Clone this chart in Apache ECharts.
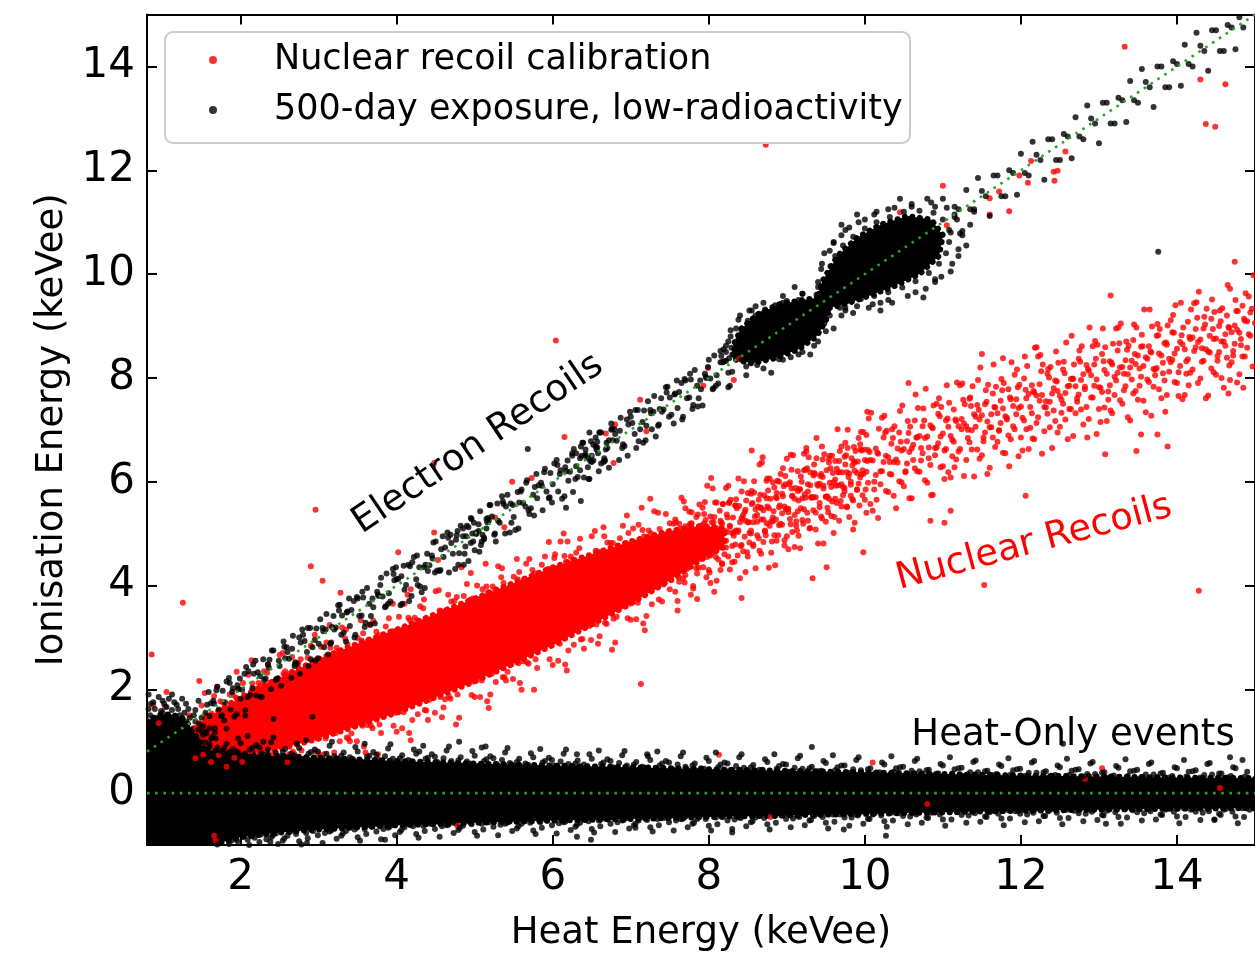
<!DOCTYPE html>
<html><head><meta charset="utf-8">
<script src="https://cdn.jsdelivr.net/npm/echarts@6/dist/echarts.min.js"></script>
<style>html,body{margin:0;padding:0;background:#fff}#c{width:1255px;height:957px}</style>
</head><body><div id="c"></div>
<script>
const FONT = 'DejaVu Sans';
const xTicks = [2,4,6,8,10,12,14];
const yTicks = [0,2,4,6,8,10,12,14];
const legendNames = ['Nuclear recoil calibration','500-day exposure, low-radioactivity'];

// ---- Nuclear recoil calibration (red) ----
const nrCoreUpper = [[1.25,1.05],[1.5,1.38],[2.0,1.85],[2.5,2.22],[3.0,2.58],[3.5,2.88],[4.0,3.15],[4.5,3.45],[5.0,3.75],[5.5,4.05],[6.0,4.35],[6.5,4.6],[7.0,4.85],[7.5,5.05],[7.9,5.15],[8.2,5.1]];
const nrCoreLower = [[8.2,4.75],[7.9,4.5],[7.5,4.1],[7.0,3.65],[6.5,3.25],[6.0,2.85],[5.5,2.5],[5.0,2.15],[4.5,1.85],[4.0,1.55],[3.5,1.3],[3.0,1.05],[2.5,0.85],[2.0,0.75],[1.5,0.72],[1.25,0.78]];
const nrSparse = [
7.50,3.93,7.54,4.37,7.47,4.62,7.56,4.96,7.45,5.38,7.52,4.20,7.60,3.70,7.64,4.28,7.57,4.59,7.66,4.87,7.55,5.19,7.62,4.73,
7.70,4.20,7.74,4.56,7.67,4.86,7.76,5.19,7.65,5.69,7.72,4.42,7.80,3.99,7.84,4.33,7.77,4.85,7.86,5.06,7.75,5.42,7.82,4.67,
7.90,4.51,7.94,4.74,7.87,5.03,7.96,5.26,7.85,3.74,7.92,5.50,8.00,4.30,8.04,4.63,7.97,4.87,8.06,5.22,7.95,5.61,8.02,4.05,
8.10,4.09,8.14,4.78,8.07,5.07,8.16,5.21,8.05,5.87,8.12,4.50,8.20,4.60,8.24,5.03,8.17,5.19,8.26,5.60,8.15,4.30,8.22,5.88,
8.30,4.45,8.34,4.79,8.27,5.15,8.36,5.49,8.25,5.92,8.32,5.03,8.40,4.14,8.44,4.66,8.37,5.03,8.46,5.42,8.35,5.66,8.42,5.29,
8.50,4.56,8.54,5.00,8.47,5.25,8.56,5.59,8.45,6.01,8.52,4.83,8.60,4.33,8.64,4.91,8.57,5.22,8.66,5.50,8.55,5.82,8.62,5.36,
8.70,4.84,8.74,5.20,8.67,5.50,8.76,5.83,8.65,6.33,8.72,5.06,8.80,4.63,8.84,4.97,8.77,5.49,8.86,5.70,8.75,6.06,8.82,5.31,
8.90,5.16,8.94,5.39,8.87,5.68,8.96,5.91,8.85,4.39,8.92,6.15,9.00,4.95,9.04,5.28,8.97,5.52,9.06,5.87,8.95,6.26,9.02,4.70,
9.10,4.74,9.14,5.43,9.07,5.72,9.16,5.86,9.05,6.52,9.12,5.15,9.20,5.26,9.24,5.69,9.17,5.85,9.26,6.26,9.15,4.96,9.22,6.54,
9.30,5.11,9.34,5.45,9.27,5.81,9.36,6.15,9.25,6.58,9.32,5.69,9.40,4.81,9.44,5.33,9.37,5.70,9.46,6.09,9.35,6.33,9.42,5.96,
9.50,5.23,9.54,5.67,9.47,5.92,9.56,6.26,9.45,6.68,9.52,5.50,9.60,5.01,9.64,5.59,9.57,5.90,9.66,6.18,9.55,6.50,9.62,6.04,
9.70,5.52,9.74,5.88,9.67,6.18,9.76,6.51,9.65,7.01,9.72,5.74,9.80,5.32,9.84,5.66,9.77,6.18,9.86,6.39,9.75,6.75,9.82,6.00,
9.90,5.85,9.94,6.08,9.87,6.37,9.96,6.60,9.85,5.08,9.92,6.84,10.00,5.65,10.04,5.98,9.97,6.22,10.06,6.57,9.95,6.96,10.02,5.40,
10.10,5.44,10.14,6.13,10.07,6.42,10.16,6.56,10.05,7.22,10.12,5.85,10.20,5.95,10.24,6.38,10.17,6.54,10.26,6.95,10.15,5.65,10.22,7.23,
10.30,5.80,10.34,6.14,10.27,6.50,10.36,6.84,10.25,7.27,10.32,6.38,10.40,5.49,10.44,6.01,10.37,6.38,10.46,6.77,10.35,7.01,10.42,6.64,
10.50,5.91,10.54,6.35,10.47,6.60,10.56,6.94,10.45,7.36,10.52,6.18,10.60,5.68,10.64,6.26,10.57,6.57,10.66,6.85,10.55,7.17,10.62,6.71,
10.70,6.19,10.74,6.55,10.67,6.85,10.76,7.18,10.65,7.68,10.72,6.41,10.80,5.98,10.84,6.32,10.77,6.84,10.86,7.05,10.75,7.41,10.82,6.66,
10.90,6.51,10.94,6.74,10.87,7.03,10.96,7.26,10.85,5.74,10.92,7.50,11.00,6.30,11.04,6.63,10.97,6.87,11.06,7.22,10.95,7.61,11.02,6.05,
11.10,6.08,11.14,6.77,11.07,7.06,11.16,7.20,11.05,7.86,11.12,6.49,11.20,6.58,11.24,7.01,11.17,7.17,11.26,7.58,11.15,6.28,11.22,7.86,
11.30,6.42,11.34,6.76,11.27,7.12,11.36,7.46,11.25,7.89,11.32,7.00,11.40,6.10,11.44,6.62,11.37,6.99,11.46,7.38,11.35,7.62,11.42,7.25,
11.50,6.51,11.54,6.95,11.47,7.20,11.56,7.54,11.45,7.96,11.52,6.78,11.60,6.27,11.64,6.85,11.57,7.16,11.66,7.44,11.55,7.76,11.62,7.30,
11.70,6.77,11.74,7.13,11.67,7.43,11.76,7.76,11.65,8.26,11.72,6.99,11.80,6.55,11.84,6.89,11.77,7.41,11.86,7.62,11.75,7.98,11.82,7.23,
11.90,7.07,11.94,7.30,11.87,7.59,11.96,7.82,11.85,6.30,11.92,8.06,12.00,6.85,12.04,7.18,11.97,7.42,12.06,7.77,11.95,8.16,12.02,6.60,
12.10,6.63,12.14,7.32,12.07,7.61,12.16,7.75,12.05,8.41,12.12,7.04,12.20,7.13,12.24,7.56,12.17,7.72,12.26,8.13,12.15,6.83,12.22,8.41,
12.30,6.97,12.34,7.31,12.27,7.67,12.36,8.01,12.25,8.44,12.32,7.55,12.40,6.65,12.44,7.17,12.37,7.54,12.46,7.93,12.35,8.17,12.42,7.80,
12.50,7.06,12.54,7.50,12.47,7.75,12.56,8.09,12.45,8.51,12.52,7.33,12.60,6.82,12.64,7.40,12.57,7.71,12.66,7.99,12.55,8.31,12.62,7.85,
12.70,7.32,12.74,7.68,12.67,7.98,12.76,8.31,12.65,8.81,12.72,7.54,12.80,7.10,12.84,7.44,12.77,7.96,12.86,8.17,12.75,8.53,12.82,7.78,
12.90,7.62,12.94,7.85,12.87,8.14,12.96,8.37,12.85,6.85,12.92,8.61,13.00,7.40,13.04,7.73,12.97,7.97,13.06,8.32,12.95,8.71,13.02,7.15,
13.10,7.17,13.14,7.86,13.07,8.15,13.16,8.29,13.05,8.95,13.12,7.58,13.20,7.67,13.24,8.10,13.17,8.26,13.26,8.67,13.15,7.37,13.22,8.95,
13.30,7.50,13.34,7.84,13.27,8.20,13.36,8.54,13.25,8.97,13.32,8.08,13.40,7.18,13.44,7.70,13.37,8.07,13.46,8.46,13.35,8.70,13.42,8.33,
13.50,7.58,13.54,8.02,13.47,8.27,13.56,8.61,13.45,9.03,13.52,7.85,13.60,7.34,13.64,7.92,13.57,8.23,13.66,8.51,13.55,8.83,13.62,8.37,
13.70,7.83,13.74,8.19,13.67,8.49,13.76,8.82,13.65,9.32,13.72,8.05,13.80,7.61,13.84,7.95,13.77,8.47,13.86,8.68,13.75,9.04,13.82,8.29,
13.90,8.12,13.94,8.35,13.87,8.64,13.96,8.87,13.85,7.35,13.92,9.11,14.00,7.90,14.04,8.23,13.97,8.47,14.06,8.82,13.95,9.21,14.02,7.65,
14.10,7.67,14.14,8.36,14.07,8.65,14.16,8.79,14.05,9.45,14.12,8.08,14.20,8.16,14.24,8.59,14.17,8.75,14.26,9.16,14.15,7.86,14.22,9.44,
14.30,7.99,14.34,8.33,14.27,8.69,14.36,9.03,14.25,9.46,14.32,8.57,14.40,7.66,14.44,8.18,14.37,8.55,14.46,8.94,14.35,9.18,14.42,8.81,
14.50,8.06,14.54,8.50,14.47,8.75,14.56,9.09,14.45,9.51,14.52,8.33,14.60,7.81,14.64,8.39,14.57,8.70,14.66,8.98,14.55,9.30,14.62,8.84,
14.70,8.30,14.74,8.66,14.67,8.96,14.76,9.29,14.65,9.79,14.72,8.52,14.80,8.07,14.84,8.41,14.77,8.93,14.86,9.14,14.75,9.50,14.82,8.75,
14.90,8.58,14.94,8.81,14.87,9.10,14.96,9.33,14.85,7.81,14.92,9.57];
const nrSparse2 = [
7.57,3.88,7.52,4.30,7.60,4.58,7.54,4.88,7.58,5.22,7.67,4.14,7.62,4.52,7.70,4.78,7.64,5.10,7.68,5.62,
7.77,3.82,7.72,4.34,7.80,4.78,7.74,4.92,7.78,5.20,7.87,4.34,7.82,4.56,7.90,5.02,7.84,5.32,7.88,5.56,
7.97,4.16,7.92,4.78,8.00,5.00,7.94,5.20,7.98,5.92,8.07,3.88,8.02,4.58,8.10,4.78,8.04,5.22,8.08,5.60,
8.17,4.41,8.12,4.79,8.20,5.06,8.14,5.44,8.18,5.57,8.27,4.31,8.22,4.73,8.30,5.01,8.24,5.31,8.28,5.65,
8.37,4.58,8.32,4.96,8.40,5.22,8.34,5.54,8.38,6.06,8.47,4.26,8.42,4.78,8.50,5.22,8.44,5.36,8.48,5.64,
8.57,4.79,8.52,5.01,8.60,5.47,8.54,5.77,8.58,6.01,8.67,4.61,8.62,5.23,8.70,5.45,8.64,5.65,8.68,6.37,
8.77,4.34,8.72,5.04,8.80,5.24,8.74,5.68,8.78,6.06,8.87,4.86,8.82,5.24,8.90,5.51,8.84,5.89,8.88,6.02,
8.97,4.77,8.92,5.19,9.00,5.47,8.94,5.77,8.98,6.11,9.07,5.03,9.02,5.41,9.10,5.67,9.04,5.99,9.08,6.51,
9.17,4.72,9.12,5.24,9.20,5.68,9.14,5.82,9.18,6.10,9.27,5.25,9.22,5.47,9.30,5.93,9.24,6.23,9.28,6.47,
9.37,5.08,9.32,5.70,9.40,5.92,9.34,6.12,9.38,6.84,9.47,4.81,9.42,5.51,9.50,5.71,9.44,6.15,9.48,6.53,
9.57,5.34,9.52,5.72,9.60,5.99,9.54,6.37,9.58,6.50,9.67,5.25,9.62,5.67,9.70,5.95,9.64,6.25,9.68,6.59,
9.77,5.52,9.72,5.90,9.80,6.16,9.74,6.48,9.78,7.00,9.87,5.21,9.82,5.73,9.90,6.17,9.84,6.31,9.88,6.59,
9.97,5.74,9.92,5.96,10.00,6.42,9.94,6.72,9.98,6.96,10.07,5.57,10.02,6.19,10.10,6.41,10.04,6.61,10.08,7.33,
10.17,5.30,10.12,6.00,10.20,6.20,10.14,6.64,10.18,7.02,10.27,5.82,10.22,6.20,10.30,6.47,10.24,6.85,10.28,6.98,
10.37,5.73,10.32,6.15,10.40,6.43,10.34,6.73,10.38,7.07,10.47,5.99,10.42,6.37,10.50,6.63,10.44,6.95,10.48,7.47,
10.57,5.68,10.52,6.20,10.60,6.64,10.54,6.78,10.58,7.06,10.67,6.20,10.62,6.42,10.70,6.88,10.64,7.18,10.68,7.42,
10.77,6.03,10.72,6.65,10.80,6.87,10.74,7.07,10.78,7.79,10.87,5.75,10.82,6.45,10.90,6.65,10.84,7.09,10.88,7.47,
10.97,6.28,10.92,6.66,11.00,6.93,10.94,7.31,10.98,7.44,11.07,6.18,11.02,6.60,11.10,6.88,11.04,7.18,11.08,7.52,
11.17,6.43,11.12,6.81,11.20,7.07,11.14,7.39,11.18,7.91,11.27,6.11,11.22,6.63,11.30,7.07,11.24,7.21,11.28,7.49,
11.37,6.62,11.32,6.84,11.40,7.30,11.34,7.60,11.38,7.84,11.47,6.44,11.42,7.06,11.50,7.28,11.44,7.48,11.48,8.20,
11.57,6.15,11.52,6.85,11.60,7.05,11.54,7.49,11.58,7.87,11.67,6.67,11.62,7.05,11.70,7.32,11.64,7.70,11.68,7.83,
11.77,6.56,11.72,6.98,11.80,7.26,11.74,7.56,11.78,7.90,11.87,6.82,11.82,7.20,11.90,7.46,11.84,7.78,11.88,8.30,
11.97,6.49,11.92,7.01,12.00,7.45,11.94,7.59,11.98,7.87,12.07,7.01,12.02,7.23,12.10,7.69,12.04,7.99,12.08,8.23,
12.17,6.82,12.12,7.44,12.20,7.66,12.14,7.86,12.18,8.58,12.27,6.54,12.22,7.24,12.30,7.44,12.24,7.88,12.28,8.26,
12.37,7.05,12.32,7.43,12.40,7.70,12.34,8.08,12.38,8.21,12.47,6.95,12.42,7.37,12.50,7.65,12.44,7.95,12.48,8.29,
12.57,7.20,12.52,7.58,12.60,7.84,12.54,8.16,12.58,8.68,12.67,6.88,12.62,7.40,12.70,7.84,12.64,7.98,12.68,8.26,
12.77,7.39,12.72,7.61,12.80,8.07,12.74,8.37,12.78,8.61,12.87,7.21,12.82,7.83,12.90,8.05,12.84,8.25,12.88,8.97,
12.97,6.92,12.92,7.62,13.00,7.82,12.94,8.26,12.98,8.64,13.07,7.43,13.02,7.81,13.10,8.08,13.04,8.46,13.08,8.59,
13.17,7.32,13.12,7.74,13.20,8.02,13.14,8.32,13.18,8.66,13.27,7.57,13.22,7.95,13.30,8.21,13.24,8.53,13.28,9.05,
13.37,7.24,13.32,7.76,13.40,8.20,13.34,8.34,13.38,8.62,13.47,7.75,13.42,7.97,13.50,8.43,13.44,8.73,13.48,8.97,
13.57,7.56,13.52,8.18,13.60,8.40,13.54,8.60,13.58,9.32,13.67,7.27,13.62,7.97,13.70,8.17,13.64,8.61,13.68,8.99,
13.77,7.78,13.72,8.16,13.80,8.43,13.74,8.81,13.78,8.94,13.87,7.67,13.82,8.09,13.90,8.37,13.84,8.67,13.88,9.01,
13.97,7.92,13.92,8.30,14.00,8.56,13.94,8.88,13.98,9.40,14.07,7.59,14.02,8.11,14.10,8.55,14.04,8.69,14.08,8.97,
14.17,8.10,14.12,8.32,14.20,8.78,14.14,9.08,14.18,9.32,14.27,7.90,14.22,8.52,14.30,8.74,14.24,8.94,14.28,9.66,
14.37,7.61,14.32,8.31,14.40,8.51,14.34,8.95,14.38,9.33,14.47,8.11,14.42,8.49,14.50,8.76,14.44,9.14,14.48,9.27,
14.57,8.00,14.52,8.42,14.60,8.70,14.54,9.00,14.58,9.34,14.67,8.24,14.62,8.62,14.70,8.88,14.64,9.20,14.68,9.72,
14.77,7.91,14.72,8.43,14.80,8.87,14.74,9.01,14.78,9.29,14.87,8.41,14.82,8.63,14.90,9.09,14.84,9.39,14.88,9.63,
14.97,8.22,14.92,8.84,15.00,9.06,14.94,9.26,14.98,9.98];
const nrSparse3 = [
7.61,4.16,7.58,4.46,7.63,4.73,7.59,4.97,7.62,5.19,7.69,4.06,7.66,4.36,7.71,4.66,7.67,4.91,7.70,5.14,
7.77,4.36,7.74,4.66,7.79,4.91,7.75,5.13,7.78,5.41,7.85,4.23,7.82,4.53,7.87,4.81,7.83,5.05,7.86,5.37,
7.93,4.35,7.90,4.65,7.95,4.92,7.91,5.16,7.94,5.38,8.01,4.25,7.98,4.55,8.03,4.85,7.99,5.10,8.02,5.33,
8.09,4.55,8.06,4.85,8.11,5.10,8.07,5.32,8.10,5.60,8.17,4.43,8.14,4.73,8.19,5.01,8.15,5.25,8.18,5.57,
8.25,4.56,8.22,4.86,8.27,5.13,8.23,5.37,8.26,5.59,8.33,4.46,8.30,4.76,8.35,5.06,8.31,5.31,8.34,5.54,
8.41,4.76,8.38,5.06,8.43,5.31,8.39,5.53,8.42,5.81,8.49,4.64,8.46,4.94,8.51,5.22,8.47,5.46,8.50,5.78,
8.57,4.76,8.54,5.06,8.59,5.33,8.55,5.57,8.58,5.79,8.65,4.67,8.62,4.97,8.67,5.27,8.63,5.52,8.66,5.75,
8.73,4.97,8.70,5.27,8.75,5.52,8.71,5.74,8.74,6.02,8.81,4.85,8.78,5.15,8.83,5.43,8.79,5.67,8.82,5.99,
8.89,4.97,8.86,5.27,8.91,5.54,8.87,5.78,8.90,6.00,8.97,4.87,8.94,5.17,8.99,5.47,8.95,5.72,8.98,5.95,
9.05,5.18,9.02,5.48,9.07,5.73,9.03,5.95,9.06,6.23,9.13,5.06,9.10,5.36,9.15,5.64,9.11,5.88,9.14,6.20,
9.21,5.19,9.18,5.49,9.23,5.76,9.19,6.00,9.22,6.22,9.29,5.10,9.26,5.40,9.31,5.70,9.27,5.95,9.30,6.18,
9.37,5.40,9.34,5.70,9.39,5.95,9.35,6.17,9.38,6.45,9.45,5.29,9.42,5.59,9.47,5.87,9.43,6.11,9.46,6.43,
9.53,5.41,9.50,5.71,9.55,5.98,9.51,6.22,9.54,6.44,9.61,5.32,9.58,5.62,9.63,5.92,9.59,6.17,9.62,6.40,
9.69,5.63,9.66,5.93,9.71,6.18,9.67,6.40,9.70,6.68,9.77,5.51,9.74,5.81,9.79,6.09,9.75,6.33,9.78,6.65,
9.85,5.64,9.82,5.94,9.87,6.21,9.83,6.45,9.86,6.67,9.93,5.54,9.90,5.84,9.95,6.14,9.91,6.39,9.94,6.62,
10.01,5.85,9.98,6.15,10.03,6.40,9.99,6.62,10.02,6.90];
const nrEdge = [
1.43,1.26,1.34,1.50,1.63,1.53,1.54,1.93,1.83,1.60,1.74,1.77,2.03,2.12,1.94,1.84,2.23,2.12,2.14,2.56,
2.43,2.08,2.34,2.32,2.63,2.30,2.54,2.70,2.67,0.80,2.83,2.33,2.74,2.50,2.87,1.05,2.78,0.82,
3.03,2.82,2.94,2.54,3.07,0.75,2.98,1.05,3.23,2.80,3.14,3.24,3.27,1.00,3.43,2.74,3.34,2.98,3.47,1.30,3.38,1.05,
3.63,2.93,3.54,3.33,3.67,1.30,3.58,0.90,3.83,2.94,3.74,3.11,3.87,1.55,3.78,1.32,4.03,3.40,3.94,3.12,4.07,1.25,3.98,1.55,
4.23,3.38,4.14,3.82,4.27,1.52,4.18,1.02,4.43,3.32,4.34,3.56,4.47,1.84,4.38,1.59,4.63,3.51,4.54,3.91,4.67,1.86,4.58,1.46,
4.83,3.53,4.74,3.70,4.87,2.13,4.78,1.90,5.03,4.00,4.94,3.72,5.07,1.85,4.98,2.15,5.23,3.98,5.14,4.42,5.27,2.14,5.18,1.64,
5.43,3.92,5.34,4.16,5.47,2.48,5.38,2.23,5.63,4.11,5.54,4.51,5.67,2.52,5.58,2.12,5.83,4.13,5.74,4.30,5.87,2.81,5.78,2.58,
6.03,4.60,5.94,4.32,6.07,2.55,5.98,2.85,6.23,4.56,6.14,5.00,6.27,2.86,6.18,2.36,6.43,4.48,6.34,4.72,6.47,3.22,6.38,2.97,
6.63,4.65,6.54,5.05,6.67,3.28,6.58,2.88,6.83,4.65,6.74,4.82,6.87,3.59,6.78,3.36,7.03,5.10,6.94,4.82,7.07,3.35,6.98,3.65,
7.23,5.06,7.14,5.50,7.27,3.64,7.18,3.14,
1.46,1.33,1.55,1.50,1.66,1.87,1.75,1.59,1.86,1.90,1.95,2.34,2.06,1.87,2.15,2.11,2.26,2.08,2.35,2.48,2.46,2.13,2.55,2.30,
2.66,2.62,2.75,2.34,2.69,0.75,2.86,2.61,2.95,3.05,2.89,1.05,2.96,0.80,3.06,2.56,3.15,2.80,3.09,1.05,
3.26,2.75,3.35,3.15,3.29,1.30,3.36,1.07,3.46,2.77,3.55,2.94,3.49,1.00,3.56,1.30,3.66,3.24,3.75,2.96,3.69,1.25,3.76,0.75,
3.86,3.21,3.95,3.65,3.89,1.55,3.96,1.30,4.06,3.14,4.15,3.38,4.09,1.56,4.16,1.16,4.26,3.33,4.35,3.73,4.29,1.83,4.36,1.60,
4.46,3.35,4.55,3.52,4.49,1.55,4.56,1.85,4.66,3.82,4.75,3.54,4.69,1.82,4.76,1.32,4.86,3.80,4.95,4.24,4.89,2.14,4.96,1.89,
5.06,3.74,5.15,3.98,5.09,2.17,5.16,1.77,5.26,3.93,5.35,4.33,5.29,2.46,5.36,2.23,5.46,3.95,5.55,4.12,5.49,2.20,5.56,2.50,
5.66,4.42,5.75,4.14,5.69,2.49,5.76,1.99,5.86,4.40,5.95,4.84,5.89,2.83,5.96,2.58,6.06,4.33,6.15,4.57,6.09,2.88,6.16,2.48,
6.26,4.50,6.35,4.90,6.29,3.19,6.36,2.96,6.46,4.50,6.55,4.67,6.49,2.95,6.56,3.25,6.66,4.95,6.75,4.67,6.69,3.26,6.76,2.76,
6.86,4.91,6.95,5.35,6.89,3.62,6.96,3.37,7.06,4.83,7.15,5.07,7.09,3.67,7.16,3.27,7.26,5.00,7.35,5.40,7.29,3.96,7.36,3.73];
const nrEdge2 = [
1.47,1.30,1.42,0.67,1.50,1.69,1.57,1.49,1.52,0.74,1.67,1.45,1.62,0.60,1.70,2.05,1.77,1.75,1.72,0.73,
1.87,1.69,1.82,0.51,1.90,1.89,1.97,2.01,1.92,0.68,2.07,1.80,2.02,0.60,2.10,2.28,2.17,2.01,2.12,0.81,
2.27,1.96,2.22,0.80,2.30,2.35,2.37,2.12,2.32,0.89,2.47,2.06,2.42,0.77,2.50,2.66,2.57,2.35,2.52,0.93,2.60,0.60,
2.67,2.28,2.62,0.75,2.70,2.48,2.77,2.58,2.72,0.95,2.87,2.36,2.82,1.00,2.90,2.84,2.97,2.57,2.92,1.14,3.00,0.76,
3.07,2.51,3.02,1.15,3.10,2.90,3.17,2.66,3.12,1.26,3.20,0.78,3.27,2.59,3.22,1.16,3.30,3.19,3.37,2.87,3.32,1.33,3.40,1.00,
3.47,2.79,3.42,1.15,3.50,2.99,3.57,3.08,3.52,1.36,3.60,0.78,3.67,2.84,3.62,1.31,3.70,3.32,3.77,3.04,3.72,1.54,3.80,1.16,
3.87,2.98,3.82,1.55,3.90,3.37,3.97,3.12,3.92,1.66,4.00,1.18,4.07,3.05,4.02,1.56,4.10,3.65,4.17,3.33,4.12,1.74,4.20,1.41,
4.27,3.21,4.22,1.77,4.30,3.60,4.37,3.36,4.32,1.89,4.40,1.41,4.47,3.29,4.42,1.80,4.50,3.89,4.57,3.51,4.52,2.00,4.60,1.65,
4.67,3.49,4.62,1.81,4.70,3.69,4.77,3.78,4.72,2.03,4.80,1.45,4.87,3.55,4.82,2.17,4.90,4.03,4.97,3.75,4.92,2.23,5.00,1.85,
5.07,3.67,5.02,2.25,5.10,3.93,5.17,3.87,5.12,2.37,5.20,1.90,5.27,3.77,5.22,2.30,5.30,4.37,5.37,4.05,5.32,2.50,5.40,2.17,
5.47,3.97,5.42,2.34,5.50,4.17,5.57,4.26,5.52,2.57,5.60,1.99,5.67,4.03,5.62,2.54,5.70,4.51,5.77,4.23,5.72,2.79,5.80,2.41,
5.87,4.17,5.82,2.82,5.90,4.56,5.97,4.32,5.92,2.95,6.00,2.47,6.07,4.25,6.02,2.96,6.10,4.85,6.17,4.46,6.12,3.08,6.20,2.75,
6.27,4.39,6.22,3.12,6.30,4.63,6.37,4.48,6.32,3.23,6.40,2.78,6.47,4.46,6.42,3.26,6.50,4.95,6.57,4.66,6.52,3.42,6.60,3.02,
6.67,4.59,6.62,3.44,6.70,4.83,6.77,4.82,6.72,3.55,6.80,2.90,6.87,4.73,6.82,3.40,6.90,5.15,6.97,5.01,6.92,3.64,7.00,3.34,
7.07,4.78,7.02,3.78,7.10,5.17,7.17,4.95,7.12,3.87,7.20,3.41,7.27,4.87,7.22,3.91,7.30,5.43,7.37,5.09,7.32,4.02,7.40,3.69,
7.47,5.00,7.42,4.02,7.50,5.20,7.57,5.27,7.52,4.10,7.60,3.52,7.67,5.01,7.62,4.07,7.70,5.49,7.77,5.18,7.72,4.32,7.80,3.94];
const nrOutliers = [
2.96,5.46,6.04,8.72,8.73,12.49,1.26,3.67,0.86,2.67,11.53,4.01,14.28,3.90,7.13,2.10,2.90,4.37,3.05,4.09,3.28,3.86,4.48,6.36,
7.25,5.67,6.65,5.12,6.19,4.85,6.02,4.53,13.15,9.59,14.74,10.24,12.20,8.59,11.50,8.46,11.77,8.38,10.56,7.90,10.03,7.35,
8.55,6.60,8.69,6.47,9.25,6.65,9.00,6.44,8.03,6.07,9.33,4.14,9.98,4.64,9.51,4.35,8.42,3.76,11.10,5.44,10.84,5.25,11.02,5.21,
12.06,5.73,13.48,6.59,13.08,6.53,13.54,6.91,13.75,6.91,13.88,6.68,14.66,7.70,14.68,7.96,
1.66,-0.82,1.68,-0.92,4.78,-0.63,8.13,0.74,10.10,0.59,8.79,-0.46,13.04,0.48,12.82,0.27,10.80,-0.21,14.55,0.10,
7.12,7.58,7.20,6.97,6.80,7.10,6.68,6.93,6.78,6.36,6.15,6.86,5.48,6.00,5.38,5.12,5.26,5.31,5.73,6.07,4.48,5.02,4.02,4.64,
4.18,3.93,4.83,4.35,4.53,4.49,11.00,11.70,10.45,11.19,11.05,10.94,11.60,11.46,11.85,11.21,11.60,11.15,11.72,11.59,
11.98,11.90,12.09,11.76,12.13,12.18,12.42,11.97,12.43,11.80,12.57,12.36,8.32,7.96,7.93,7.85,7.99,8.19,8.39,8.37,
13.33,14.38,14.30,13.75,14.37,12.89,14.49,12.84,14.62,13.66,12.47,11.99,0.88,1.70,1.03,1.66,1.47,2.16,1.05,1.95,0.95,1.35];

// ---- 500-day exposure (black) ----
const heatCoreUpper = [[0.8,0.88],[1.2,0.86],[1.6,0.82],[2.0,0.77],[2.5,0.72],[3.0,0.68],[3.5,0.65],[4.0,0.62],[5.0,0.57],[6.0,0.53],[7.0,0.5],[8.0,0.46],[9.0,0.43],[10.0,0.4],[11.0,0.37],[12.0,0.34],[13.0,0.32],[14.0,0.3],[15.0,0.29]];
const heatCoreLower = [[15.0,-0.29],[14.0,-0.3],[13.0,-0.32],[12.0,-0.34],[11.0,-0.37],[10.0,-0.4],[9.0,-0.43],[8.0,-0.46],[7.0,-0.5],[6.0,-0.53],[5.0,-0.57],[4.0,-0.62],[3.5,-0.66],[3.0,-0.7],[2.5,-0.76],[2.0,-0.85],[1.7,-0.97],[1.5,-1.05],[0.8,-1.05]];
const lowCluster = [[0.8,0.8],[0.8,1.4],[0.95,1.5],[1.1,1.52],[1.25,1.45],[1.38,1.25],[1.48,0.95],[1.55,0.8]];
const blobA = [[8.35,8.35],[8.55,8.28],[8.85,8.38],[9.15,8.55],[9.38,8.80],[9.50,9.10],[9.55,9.40],[9.42,9.55],[9.20,9.50],[8.90,9.42],[8.62,9.22],[8.42,8.95],[8.32,8.65]];
const blobB = [[9.55,9.35],[9.80,9.45],[10.05,9.58],[10.35,9.75],[10.70,10.00],[10.95,10.35],[11.00,10.75],[10.85,11.05],[10.55,11.12],[10.20,10.95],[9.90,10.70],[9.65,10.35],[9.45,9.85],[9.40,9.55]];
const heatFringe = [
1.00,0.88,1.07,1.02,1.15,0.93,1.22,1.13,1.30,0.84,1.37,0.94,1.45,1.02,1.52,0.87,1.60,0.94,1.67,1.17,
1.75,0.81,1.82,0.95,1.70,-0.99,1.90,0.85,1.97,1.05,1.85,-0.98,1.94,-0.89,2.05,0.74,2.12,0.84,2.09,-0.90,
2.20,0.92,2.27,0.77,2.15,-0.82,2.24,-0.94,2.35,0.84,2.42,1.07,2.39,-0.85,2.50,0.71,2.57,0.85,2.45,-0.78,2.54,-0.92,
2.65,0.76,2.72,0.96,2.60,-0.82,2.69,-0.73,2.80,0.66,2.87,0.76,2.75,-0.93,2.84,-0.77,2.95,0.84,3.02,0.69,2.90,-0.69,2.99,-0.81,
3.10,0.76,3.17,0.99,3.05,-0.96,3.14,-0.74,3.25,0.64,3.32,0.78,3.20,-0.68,3.29,-0.82,3.40,0.69,3.47,0.89,3.35,-0.73,3.44,-0.64,
3.55,0.60,3.62,0.70,3.50,-0.85,3.59,-0.69,3.70,0.79,3.77,0.64,3.65,-0.62,3.74,-0.74,3.85,0.71,3.92,0.94,3.80,-0.89,3.89,-0.67,
4.00,0.59,4.07,0.73,3.95,-0.61,4.04,-0.75,4.15,0.64,4.22,0.84,4.10,-0.66,4.19,-0.57,4.30,0.56,4.37,0.66,4.25,-0.79,4.34,-0.63,
4.45,0.75,4.52,0.60,4.40,-0.57,4.49,-0.69,4.60,0.67,4.67,0.90,4.55,-0.84,4.64,-0.62,4.75,0.55,4.82,0.69,4.70,-0.57,4.79,-0.71,
4.90,0.61,4.97,0.81,4.85,-0.63,4.94,-0.54,5.05,0.52,5.12,0.62,5.00,-0.75,5.09,-0.59,5.20,0.71,5.27,0.56,5.15,-0.53,5.24,-0.65,
5.35,0.64,5.42,0.87,5.30,-0.81,5.39,-0.59,5.50,0.52,5.57,0.66,5.45,-0.54,5.54,-0.68,5.65,0.57,5.72,0.77,5.60,-0.59,5.69,-0.50,
5.80,0.49,5.87,0.59,5.75,-0.72,5.84,-0.56,5.95,0.68,6.02,0.53,5.90,-0.50,5.99,-0.62,6.10,0.61,6.17,0.84,6.05,-0.78,6.14,-0.56,
6.25,0.49,6.32,0.63,6.20,-0.51,6.29,-0.65,6.40,0.55,6.47,0.75,6.35,-0.57,6.44,-0.48,6.55,0.46,6.62,0.56,6.50,-0.69,6.59,-0.53,
6.70,0.65,6.77,0.50,6.65,-0.47,6.74,-0.59,6.85,0.58,6.92,0.81,6.80,-0.75,6.89,-0.53,7.00,0.46,7.07,0.60,6.95,-0.48,7.04,-0.62,
7.15,0.51,7.22,0.71,7.10,-0.53,7.19,-0.44,7.30,0.43,7.37,0.53,7.25,-0.66,7.34,-0.50,7.45,0.62,7.52,0.47,7.40,-0.44,7.49,-0.56,
7.60,0.55,7.67,0.78,7.55,-0.72,7.64,-0.50,7.75,0.43,7.82,0.57,7.70,-0.45,7.79,-0.59,7.90,0.48,7.97,0.68,7.85,-0.50,7.94,-0.41,
8.05,0.40,8.12,0.50,8.00,-0.63,8.09,-0.47,8.20,0.59,8.27,0.44,8.15,-0.41,8.24,-0.53,8.35,0.52,8.42,0.75,8.30,-0.69,8.39,-0.47,
8.50,0.40,8.57,0.54,8.45,-0.42,8.54,-0.56,8.65,0.45,8.72,0.65,8.60,-0.47,8.69,-0.38,8.80,0.37,8.87,0.47,8.75,-0.60,8.84,-0.44,
8.95,0.56,9.02,0.41,8.90,-0.38,8.99,-0.50,9.10,0.49,9.17,0.72,9.05,-0.66,9.14,-0.44,9.25,0.37,9.32,0.51,9.20,-0.39,9.29,-0.53,
9.40,0.42,9.47,0.62,9.35,-0.44,9.44,-0.35,9.55,0.34,9.62,0.44,9.50,-0.57,9.59,-0.41,9.70,0.53,9.77,0.38,9.65,-0.35,9.74,-0.47,
9.85,0.46,9.92,0.69,9.80,-0.63,9.89,-0.41,10.00,0.34,10.07,0.48,9.95,-0.36,10.04,-0.50,10.15,0.39,10.22,0.59,10.10,-0.41,10.19,-0.32,
10.30,0.31,10.37,0.41,10.25,-0.54,10.34,-0.38,10.45,0.50,10.52,0.35,10.40,-0.32,10.49,-0.44,10.60,0.43,10.67,0.66,10.55,-0.60,10.64,-0.38,
10.75,0.31,10.82,0.45,10.70,-0.33,10.79,-0.47,10.90,0.36,10.97,0.56,10.85,-0.38,10.94,-0.29,11.05,0.28,11.12,0.38,11.00,-0.51,11.09,-0.35,
11.20,0.48,11.27,0.33,11.15,-0.30,11.24,-0.42,11.35,0.40,11.42,0.63,11.30,-0.57,11.39,-0.35,11.50,0.29,11.57,0.43,11.45,-0.31,11.54,-0.45,
11.65,0.35,11.72,0.55,11.60,-0.37,11.69,-0.28,11.80,0.26,11.87,0.36,11.75,-0.49,11.84,-0.33,11.95,0.46,12.02,0.31,11.90,-0.28,11.99,-0.40,
12.10,0.39,12.17,0.62,12.05,-0.56,12.14,-0.34,12.25,0.28,12.32,0.42,12.20,-0.30,12.29,-0.44,12.40,0.33,12.47,0.53,12.35,-0.35,12.44,-0.26,
12.55,0.25,12.62,0.35,12.50,-0.48,12.59,-0.32,12.70,0.45,12.77,0.30,12.65,-0.27,12.74,-0.39,12.85,0.37,12.92,0.60,12.80,-0.54,12.89,-0.32,
13.00,0.26,13.07,0.40,12.95,-0.28,13.04,-0.42,13.15,0.32,13.22,0.52,13.10,-0.34,13.19,-0.25,13.30,0.23,13.37,0.33,13.25,-0.46,13.34,-0.30,
13.45,0.43,13.52,0.28,13.40,-0.25,13.49,-0.37,13.60,0.36,13.67,0.59,13.55,-0.53,13.64,-0.31,13.75,0.25,13.82,0.39,13.70,-0.27,13.79,-0.41,
13.90,0.30,13.97,0.50,13.85,-0.32,13.94,-0.23,14.05,0.22,14.12,0.32,14.00,-0.45,14.09,-0.29,14.20,0.42,14.27,0.27,14.15,-0.24,14.24,-0.36,
14.35,0.35,14.42,0.58,14.30,-0.52,14.39,-0.30,14.50,0.24,14.57,0.38,14.45,-0.26,14.54,-0.40,14.65,0.30,14.72,0.50,14.60,-0.32,14.69,-0.23,
14.80,0.22,14.87,0.32,14.75,-0.45,14.84,-0.29];
const heatFringe2 = [
1.10,0.86,1.04,0.96,1.25,1.05,1.19,0.90,1.40,0.96,1.34,1.19,1.55,0.84,1.49,0.98,1.70,0.88,1.64,1.08,
1.85,0.78,1.79,0.88,1.88,-0.92,2.00,0.96,1.94,0.81,1.96,-0.93,2.15,0.87,2.09,1.10,2.18,-0.86,2.11,-1.00,
2.30,0.74,2.24,0.88,2.33,-0.89,2.26,-0.80,2.45,0.78,2.39,0.98,2.48,-0.98,2.41,-0.82,2.60,0.69,2.54,0.79,2.63,-0.75,2.56,-0.87,
2.75,0.87,2.69,0.72,2.78,-0.99,2.71,-0.79,2.90,0.79,2.84,1.02,2.93,-0.73,2.86,-0.87,3.05,0.66,2.99,0.80,3.08,-0.77,3.01,-0.68,
3.20,0.71,3.14,0.91,3.23,-0.88,3.16,-0.72,3.35,0.62,3.29,0.72,3.38,-0.66,3.31,-0.78,3.50,0.80,3.44,0.65,3.53,-0.92,3.46,-0.70,
3.65,0.72,3.59,0.95,3.68,-0.65,3.61,-0.79,3.80,0.60,3.74,0.74,3.83,-0.69,3.76,-0.60,3.95,0.66,3.89,0.86,3.98,-0.81,3.91,-0.65,
4.10,0.57,4.04,0.67,4.13,-0.59,4.06,-0.71,4.25,0.76,4.19,0.61,4.28,-0.86,4.21,-0.64,4.40,0.68,4.34,0.91,4.43,-0.59,4.36,-0.73,
4.55,0.56,4.49,0.70,4.58,-0.64,4.51,-0.55,4.70,0.62,4.64,0.82,4.73,-0.77,4.66,-0.61,4.85,0.53,4.79,0.63,4.88,-0.55,4.81,-0.67,
5.00,0.72,4.94,0.57,5.03,-0.82,4.96,-0.60,5.15,0.65,5.09,0.88,5.18,-0.56,5.11,-0.70,5.30,0.53,5.24,0.67,5.33,-0.61,5.26,-0.52,
5.45,0.58,5.39,0.78,5.48,-0.73,5.41,-0.57,5.60,0.50,5.54,0.60,5.63,-0.52,5.56,-0.64,5.75,0.69,5.69,0.54,5.78,-0.79,5.71,-0.57,
5.90,0.62,5.84,0.85,5.93,-0.53,5.86,-0.67,6.05,0.50,5.99,0.64,6.08,-0.58,6.01,-0.49,6.20,0.56,6.14,0.76,6.23,-0.71,6.16,-0.55,
6.35,0.47,6.29,0.57,6.38,-0.49,6.31,-0.61,6.50,0.66,6.44,0.51,6.53,-0.76,6.46,-0.54,6.65,0.59,6.59,0.82,6.68,-0.50,6.61,-0.64,
6.80,0.48,6.74,0.62,6.83,-0.56,6.76,-0.47,6.95,0.53,6.89,0.73,6.98,-0.68,6.91,-0.52,7.10,0.45,7.04,0.55,7.13,-0.47,7.06,-0.59,
7.25,0.64,7.19,0.49,7.28,-0.74,7.21,-0.52,7.40,0.57,7.34,0.80,7.43,-0.48,7.36,-0.62,7.55,0.45,7.49,0.59,7.58,-0.53,7.51,-0.44,
7.70,0.51,7.64,0.71,7.73,-0.66,7.66,-0.50,7.85,0.43,7.79,0.53,7.88,-0.45,7.81,-0.57,8.00,0.62,7.94,0.47,8.03,-0.72,7.96,-0.50,
8.15,0.55,8.09,0.78,8.18,-0.46,8.11,-0.60,8.30,0.43,8.24,0.57,8.33,-0.51,8.26,-0.42,8.45,0.49,8.39,0.69,8.48,-0.64,8.41,-0.48,
8.60,0.40,8.54,0.50,8.63,-0.42,8.56,-0.54,8.75,0.60,8.69,0.45,8.78,-0.70,8.71,-0.48,8.90,0.52,8.84,0.75,8.93,-0.43,8.86,-0.57,
9.05,0.41,8.99,0.55,9.08,-0.49,9.01,-0.40,9.20,0.47,9.14,0.67,9.23,-0.62,9.16,-0.46,9.35,0.38,9.29,0.48,9.38,-0.40,9.31,-0.52,
9.50,0.58,9.44,0.43,9.53,-0.68,9.46,-0.46,9.65,0.50,9.59,0.73,9.68,-0.41,9.61,-0.55,9.80,0.39,9.74,0.53,9.83,-0.47,9.76,-0.38,
9.95,0.44,9.89,0.64,9.98,-0.59,9.91,-0.43,10.10,0.36,10.04,0.46,10.13,-0.38,10.06,-0.50,10.25,0.55,10.19,0.40,10.28,-0.65,10.21,-0.43,
10.40,0.48,10.34,0.71,10.43,-0.39,10.36,-0.53,10.55,0.37,10.49,0.51,10.58,-0.45,10.51,-0.36,10.70,0.42,10.64,0.62,10.73,-0.57,10.66,-0.41,
10.85,0.34,10.79,0.44,10.88,-0.36,10.81,-0.48,11.00,0.53,10.94,0.38,11.03,-0.63,10.96,-0.41,11.15,0.46,11.09,0.69,11.18,-0.37,11.11,-0.51,
11.30,0.35,11.24,0.49,11.33,-0.43,11.26,-0.34,11.45,0.40,11.39,0.60,11.48,-0.55,11.41,-0.39,11.60,0.32,11.54,0.42,11.63,-0.34,11.56,-0.46,
11.75,0.52,11.69,0.37,11.78,-0.62,11.71,-0.40,11.90,0.44,11.84,0.67,11.93,-0.35,11.86,-0.49,12.05,0.33,11.99,0.47,12.08,-0.41,12.01,-0.32,
12.20,0.39,12.14,0.59,12.23,-0.54,12.16,-0.38,12.35,0.30,12.29,0.40,12.38,-0.32,12.31,-0.44,12.50,0.50,12.44,0.35,12.53,-0.60,12.46,-0.38,
12.65,0.43,12.59,0.66,12.68,-0.34,12.61,-0.48,12.80,0.32,12.74,0.46,12.83,-0.40,12.76,-0.31,12.95,0.37,12.89,0.57,12.98,-0.52,12.91,-0.36,
13.10,0.29,13.04,0.39,13.13,-0.31,13.06,-0.43,13.25,0.49,13.19,0.34,13.28,-0.59,13.21,-0.37,13.40,0.42,13.34,0.65,13.43,-0.33,13.36,-0.47,
13.55,0.31,13.49,0.45,13.58,-0.39,13.51,-0.30,13.70,0.36,13.64,0.56,13.73,-0.51,13.66,-0.35,13.85,0.28,13.79,0.38,13.88,-0.30,13.81,-0.42,
14.00,0.48,13.94,0.33,14.03,-0.58,13.96,-0.36,14.15,0.41,14.09,0.64,14.18,-0.32,14.11,-0.46,14.30,0.30,14.24,0.44,14.33,-0.38,14.26,-0.29,
14.45,0.36,14.39,0.56,14.48,-0.51,14.41,-0.35,14.60,0.28,14.54,0.38,14.63,-0.30,14.56,-0.42,14.75,0.48,14.69,0.33,14.78,-0.58,14.71,-0.36,
14.90,0.41,14.84,0.64,14.93,-0.32,14.86,-0.46];
const erDots = [
1.50,1.18,1.55,1.55,1.46,1.78,1.60,1.48,1.65,1.78,1.56,1.15,1.70,2.05,1.75,1.48,1.66,1.72,1.80,1.75,1.85,2.22,1.76,1.50,
1.90,2.02,1.95,1.52,1.86,2.12,2.00,1.82,2.05,2.30,1.96,2.08,2.10,2.35,2.15,2.02,2.06,1.60,2.20,1.88,2.25,2.25,2.16,2.48,
2.30,2.18,2.35,2.48,2.26,1.85,2.40,2.75,2.45,2.18,2.36,2.42,2.50,2.45,2.55,2.92,2.46,2.20,2.60,2.72,2.65,2.22,2.56,2.82,
2.70,2.52,2.75,3.00,2.66,2.78,2.80,3.05,2.85,2.72,2.76,2.30,2.90,2.58,2.95,2.95,2.86,3.18,3.00,2.88,3.05,3.18,2.96,2.55,
3.10,3.45,3.15,2.88,3.06,3.12,3.20,3.15,3.25,3.62,3.16,2.90,3.30,3.42,3.35,2.92,3.26,3.52,3.40,3.22,3.45,3.70,3.36,3.48,
3.50,3.75,3.55,3.42,3.46,3.00,3.60,3.28,3.65,3.65,3.56,3.88,3.70,3.58,3.75,3.88,3.66,3.25,3.80,4.15,3.85,3.58,3.76,3.82,
3.90,3.85,3.95,4.32,3.86,3.60,4.00,4.12,4.05,3.62,3.96,4.22,4.10,3.92,4.15,4.40,4.06,4.18,4.20,4.45,4.25,4.12,4.16,3.70,
4.30,3.98,4.35,4.35,4.26,4.58,4.40,4.28,4.45,4.58,4.36,3.95,4.50,4.85,4.55,4.28,4.46,4.52,4.60,4.55,4.65,5.02,4.56,4.30,
4.70,4.82,4.75,4.32,4.66,4.92,4.80,4.62,4.85,5.10,4.76,4.88,4.90,5.15,4.95,4.82,4.86,4.40,5.00,4.68,5.05,5.05,4.96,5.28,
5.10,4.98,5.15,5.28,5.06,4.65,5.20,5.55,5.25,4.98,5.16,5.22,5.30,5.25,5.35,5.72,5.26,5.00,5.40,5.52,5.45,5.02,5.36,5.62,
5.50,5.32,5.55,5.80,5.46,5.58,5.60,5.85,5.65,5.52,5.56,5.10,5.70,5.38,5.75,5.75,5.66,5.98,5.80,5.68,5.85,5.98,5.76,5.35,
5.90,6.25,5.95,5.68,5.86,5.92,6.00,5.95,6.05,6.42,5.96,5.70,6.10,6.22,6.15,5.72,6.06,6.32,6.20,6.02,6.25,6.50,6.16,6.28,
6.30,6.55,6.35,6.22,6.26,5.80,6.40,6.08,6.45,6.45,6.36,6.68,6.50,6.38,6.55,6.68,6.46,6.05,6.60,6.95,6.65,6.38,6.56,6.62,
6.70,6.65,6.75,7.12,6.66,6.40,6.80,6.92,6.85,6.42,6.76,7.02,6.90,6.72,6.95,7.20,6.86,6.98,7.00,7.25,7.05,6.92,6.96,6.50,
7.10,6.78,7.15,7.15,7.06,7.38,7.20,7.08,7.25,7.38,7.16,6.75,7.30,7.65,7.35,7.08,7.26,7.32,7.40,7.35,7.45,7.82,7.36,7.10,
7.50,7.62,7.55,7.12,7.46,7.72,7.60,7.42,7.65,7.90,7.56,7.68,7.70,7.95,7.75,7.62,7.66,7.20,7.80,7.48,7.85,7.85,7.76,8.08,
7.90,7.78,7.95,8.08,7.86,7.45,8.00,8.35,8.05,7.78,7.96,8.02,8.10,8.05,8.15,8.52,8.06,7.80,8.20,8.32,8.25,7.82,8.16,8.42,
8.30,8.12,8.35,8.60,8.26,8.38,
6.35,6.45,6.42,6.62,6.48,6.40,6.52,6.71,6.58,6.55,6.62,6.35,6.45,6.28,6.38,6.75,6.55,6.85,6.68,6.62,
6.72,6.80,6.30,6.30,6.50,6.50,6.60,6.95,6.66,6.45,6.41,6.50,6.57,6.66,6.25,6.55,6.75,7.00,6.47,6.95,
4.85,4.95,4.92,5.12,4.98,4.85,5.05,5.18,5.12,4.92,4.78,5.05,5.02,5.02,5.18,5.25,4.95,5.30,5.08,4.78,4.88,4.75,5.15,5.10];
const erDots2 = [
1.57,1.70,1.52,1.29,1.59,1.95,1.67,1.25,1.62,1.73,1.69,1.98,1.77,1.97,1.72,1.61,1.79,1.40,1.87,1.61,1.82,2.15,1.89,1.95,
1.97,2.00,1.92,1.47,1.99,2.21,2.07,2.43,2.02,1.99,2.09,1.85,2.17,2.30,2.12,1.89,2.19,2.55,2.27,1.85,2.22,2.33,2.29,2.58,
2.37,2.57,2.32,2.21,2.39,2.00,2.47,2.21,2.42,2.75,2.49,2.55,2.57,2.60,2.52,2.07,2.59,2.81,2.67,3.03,2.62,2.59,2.69,2.45,
2.77,2.90,2.72,2.49,2.79,3.15,2.87,2.45,2.82,2.93,2.89,3.18,2.97,3.17,2.92,2.81,2.99,2.60,3.07,2.81,3.02,3.35,3.09,3.15,
3.17,3.20,3.12,2.67,3.19,3.41,3.27,3.63,3.22,3.19,3.29,3.05,3.37,3.50,3.32,3.09,3.39,3.75,3.47,3.05,3.42,3.53,3.49,3.78,
3.57,3.77,3.52,3.41,3.59,3.20,3.67,3.41,3.62,3.95,3.69,3.75,3.77,3.80,3.72,3.27,3.79,4.01,3.87,4.23,3.82,3.79,3.89,3.65,
3.97,4.10,3.92,3.69,3.99,4.35,4.07,3.65,4.02,4.13,4.09,4.38,4.17,4.37,4.12,4.01,4.19,3.80,4.27,4.01,4.22,4.55,4.29,4.35,
4.37,4.40,4.32,3.87,4.39,4.61,4.47,4.83,4.42,4.39,4.49,4.25,4.57,4.70,4.52,4.29,4.59,4.95,4.67,4.25,4.62,4.73,4.69,4.98,
4.77,4.97,4.72,4.61,4.79,4.40,4.87,4.61,4.82,5.15,4.89,4.95,4.97,5.00,4.92,4.47,4.99,5.21,5.07,5.43,5.02,4.99,5.09,4.85,
5.17,5.30,5.12,4.89,5.19,5.55,5.27,4.85,5.22,5.33,5.29,5.58,5.37,5.57,5.32,5.21,5.39,5.00,5.47,5.21,5.42,5.75,5.49,5.55,
5.57,5.60,5.52,5.07,5.59,5.81,5.67,6.03,5.62,5.59,5.69,5.45,5.77,5.90,5.72,5.49,5.79,6.15,5.87,5.45,5.82,5.93,5.89,6.18,
5.97,6.17,5.92,5.81,5.99,5.60,6.07,5.81,6.02,6.35,6.09,6.15,6.17,6.20,6.12,5.67,6.19,6.41,6.27,6.63,6.22,6.19,6.29,6.05,
6.37,6.50,6.32,6.09,6.39,6.75,6.47,6.05,6.42,6.53,6.49,6.78,6.57,6.77,6.52,6.41,6.59,6.20,6.67,6.41,6.62,6.95,6.69,6.75,
6.77,6.80,6.72,6.27,6.79,7.01,6.87,7.23,6.82,6.79,6.89,6.65,6.97,7.10,6.92,6.69,6.99,7.35,7.07,6.65,7.02,7.13,7.09,7.38,
7.17,7.37,7.12,7.01,7.19,6.80,7.27,7.01,7.22,7.55,7.29,7.35,7.37,7.40,7.32,6.87,7.39,7.61,7.47,7.83,7.42,7.39,7.49,7.25,
7.57,7.70,7.52,7.29,7.59,7.95,7.67,7.25,7.62,7.73,7.69,7.98,7.77,7.97,7.72,7.61,7.79,7.40,7.87,7.61,7.82,8.15,7.89,7.95,
7.97,8.00,7.92,7.47,7.99,8.21,8.07,8.43,8.02,7.99,8.09,7.85,8.17,8.30,8.12,7.89,8.19,8.55,8.27,7.85,8.22,8.33,8.29,8.58];
const blobFringe = [
8.25,8.10,8.30,8.45,8.22,8.62,8.35,8.95,8.50,9.10,8.70,9.25,8.95,9.45,9.20,9.62,9.45,9.70,9.65,9.55,9.70,9.20,9.60,8.95,
9.40,8.70,9.20,8.50,8.95,8.35,8.70,8.18,8.48,8.05,8.15,8.30,8.40,9.20,9.10,9.75,9.75,9.35,9.30,8.45,8.80,8.10,8.55,9.30,
8.28,8.80,9.62,9.80,9.52,9.58,9.58,9.68,9.45,9.52,
9.40,9.75,9.45,10.20,9.60,10.60,9.80,10.90,10.00,11.05,10.30,11.25,10.60,11.30,10.90,11.30,11.15,11.10,11.25,10.75,
11.20,10.35,11.10,10.05,10.90,9.85,10.65,9.65,10.35,9.45,10.05,9.35,9.75,9.30,9.55,10.45,9.90,11.15,10.45,11.45,
11.30,10.55,11.35,10.95,10.75,9.55,10.20,9.30,9.85,9.25,11.00,11.45,10.15,11.20,11.40,11.25,9.70,10.95,10.80,11.45,
8.42,8.35,8.55,8.32,8.68,8.38,8.82,8.44,8.95,8.50,9.10,8.58,9.22,8.68,9.33,8.80,9.40,8.95,9.44,9.10,9.42,9.25,9.38,9.40,
9.30,9.48,9.15,9.50,9.00,9.48,8.85,9.40,8.72,9.32,8.60,9.20,8.50,9.05,8.42,8.90,8.38,8.75,8.36,8.58,8.32,8.45,8.48,8.22,
8.62,8.25,8.90,8.36,9.15,8.45,9.35,8.62,9.50,8.90,9.55,9.20,9.52,9.45,9.40,9.60,9.20,9.62,8.95,9.58,8.70,9.45,8.52,9.30,
8.38,9.12,8.28,8.92,8.25,8.70,8.22,8.50,8.18,8.30,9.05,8.40,8.60,9.38,9.48,9.05,
9.62,9.48,9.78,9.48,9.95,9.52,10.12,9.58,10.30,9.65,10.48,9.74,10.65,9.86,10.82,10.02,10.95,10.20,11.04,10.40,11.08,10.62,
11.08,10.85,11.00,11.05,10.88,11.18,10.70,11.22,10.50,11.20,10.32,11.10,10.15,11.00,10.00,10.88,9.85,10.72,9.72,10.55,
9.62,10.35,9.56,10.15,9.54,9.95,9.55,9.75,9.58,9.58,9.50,9.40,9.68,9.35,9.90,9.38,10.10,9.42,10.30,9.50,10.55,9.58,
10.78,9.72,10.98,9.95,11.12,10.20,11.20,10.48,11.22,10.78,11.18,11.05,11.05,11.28,10.85,11.38,10.60,11.35,10.38,11.28,
10.12,11.15,9.92,11.00,9.75,10.85,9.60,10.62,9.48,10.40,9.44,10.10,9.40,9.85,9.38,9.60,10.20,9.45,10.90,9.90,11.15,11.15,9.70,10.75];
const erHigh = [
11.10,10.80,11.15,11.30,11.20,11.25,11.25,10.83,11.30,11.62,11.35,11.25,11.40,11.20,11.45,11.85,11.50,11.60,11.55,11.50,
11.60,11.12,11.65,11.90,11.70,11.90,11.75,11.50,11.80,11.50,11.85,12.00,11.90,11.95,11.95,11.53,12.00,12.32,12.05,11.95,
12.10,11.90,12.15,12.55,12.20,12.30,12.25,12.20,12.30,11.82,12.35,12.60,12.40,12.60,12.45,12.20,12.50,12.20,12.55,12.70,
12.60,12.65,12.65,12.23,12.70,13.02,12.75,12.65,12.80,12.60,12.85,13.25,12.90,13.00,12.95,12.90,13.00,12.52,13.05,13.30,
13.10,13.30,13.15,12.90,13.20,12.90,13.25,13.40,13.30,13.35,13.35,12.93,13.40,13.72,13.45,13.35,13.50,13.30,13.55,13.95,
13.60,13.70,13.65,13.60,13.70,13.22,13.75,14.00,13.80,14.00,13.85,13.60,13.90,13.60,13.95,14.10,14.00,14.05,14.05,13.63,
14.10,14.42,14.15,14.05,14.20,14.00,14.25,14.65,14.30,14.40,14.35,14.30,14.40,13.92,14.45,14.70,14.50,14.70,14.55,14.30,
14.60,14.30,14.65,14.80,14.70,14.75,14.75,14.33,14.85,14.75,14.80,14.95];
const lowFringe = [
0.84,1.50,0.90,1.62,0.98,1.58,1.05,1.66,1.12,1.60,1.20,1.62,1.28,1.55,1.35,1.45,1.42,1.38,1.46,1.22,1.52,1.12,1.55,0.98,
1.60,0.90,0.82,1.62,0.88,1.75,1.02,1.72,1.18,1.70,1.33,1.62,1.40,1.50,1.48,1.32,1.56,1.18,1.62,1.05,1.08,1.82,0.92,1.45,
1.30,1.38,1.22,1.50,1.00,1.55,1.15,1.48];
const bgOutliers = [
13.76,10.43,9.32,0.89,7.21,0.75,12.54,0.95,10.27,-0.82,9.73,-0.70,8.30,-0.76,7.06,-0.67,14.68,0.69,13.09,-0.59,14.48,-0.52,
3.85,-0.90,6.49,-0.90,1.19,-0.96,2.85,-0.96,2.38,-0.94,4.80,0.99,5.14,0.90,4.29,0.80,6.31,0.75,6.31,-0.84,
2.06,1.49,2.42,1.43,2.92,1.47,2.29,0.99,1.82,1.24,2.20,0.92,5.68,6.63,6.17,5.50,6.36,5.63,
0.85,1.72,1.00,1.78,1.15,1.75,1.30,1.72,1.42,1.60,1.50,1.45,1.60,1.25,1.68,1.05,0.95,1.85,1.25,1.82,0.82,1.90,1.12,1.90];

// reference guide lines
const erLine = [[0.8,0.8],[15,15]];
const zeroLine = [[0.8,0],[15,0]];

function pairs(a){ const r=[]; for(let i=0;i<a.length;i+=2) r.push([a[i],a[i+1]]); return r; }
// dense cores: filled polygon whose outline is a chain of round dots, so the edge reads as scattered points
function polySeries(poly, color){
  return { type:'custom', silent:true, clip:true, data: poly, encode:{x:0,y:1},
    renderItem: function(params, api){
      if (params.dataIndex !== 0) return null;
      return { type:'polygon', shape:{ points: poly.map(p => api.coord(p)) },
        style:{ fill: color, stroke: color, lineWidth: 6, lineDash:[0.1, 7.5], lineCap:'round' } };
    } };
}

const redPts = pairs(nrSparse).concat(pairs(nrSparse2), pairs(nrSparse3), pairs(nrEdge), pairs(nrEdge2), pairs(nrOutliers));
const blackPts = pairs(heatFringe).concat(pairs(heatFringe2), pairs(erDots), pairs(erDots2), pairs(blobFringe),
  pairs(erHigh), pairs(lowFringe), pairs(bgOutliers));

const tickStyle = { show:true, inside:true, length:10, lineStyle:{ color:'#000', width:2 } };
const lineStyle = { show:true, onZero:false, lineStyle:{ color:'#000', width:2 } };

const chart = echarts.init(document.getElementById('c'), null, { renderer:'canvas' });
chart.setOption({
  animation:false,
  backgroundColor:'#ffffff',
  grid:{ left:147, top:14.6, width:1123.2, height:837.8, containLabel:false },
  xAxis:[
    { type:'value', min:0.8, max:15, position:'bottom', axisLine:lineStyle,
      axisTick:Object.assign({ customValues:xTicks }, tickStyle),
      axisLabel:{ customValues:xTicks, fontSize:42, color:'#000', fontFamily:FONT, margin:12 },
      splitLine:{ show:false },
      name:'Heat Energy (keVee)', nameLocation:'middle', nameGap:70,
      nameTextStyle:{ fontSize:37, color:'#000', fontFamily:FONT } },
    { type:'value', min:0.8, max:15, position:'top', axisLine:lineStyle,
      axisTick:Object.assign({ customValues:xTicks }, tickStyle),
      axisLabel:{ show:false }, splitLine:{ show:false } }
  ],
  yAxis:[
    { type:'value', min:-1, max:15, position:'left', axisLine:lineStyle,
      axisTick:Object.assign({ customValues:yTicks }, tickStyle),
      axisLabel:{ customValues:yTicks, fontSize:42, color:'#000', fontFamily:FONT, margin:12 },
      splitLine:{ show:false },
      name:'Ionisation Energy (keVee)', nameLocation:'middle', nameGap:76,
      nameTextStyle:{ fontSize:37, color:'#000', fontFamily:FONT } },
    { type:'value', min:-1, max:15, position:'right', axisLine:lineStyle,
      axisTick:Object.assign({ customValues:yTicks }, tickStyle),
      axisLabel:{ show:false }, splitLine:{ show:false } }
  ],
  legend:{ data:legendNames, orient:'vertical', left:209, top:40, padding:0,
    itemWidth:112, itemHeight:8, itemGap:10, icon:'circle', selectedMode:false, z:10,
    textStyle:{ fontSize:35, fontFamily:FONT, color:'#000', lineHeight:40 } },
  graphic:[
    { type:'rect', z:8, silent:true, shape:{ x:165, y:32, width:745, height:111, r:8 },
      style:{ fill:'rgba(255,255,255,0.8)', stroke:'#cccccc', lineWidth:2 } },
    { type:'text', z:8, x:478, y:444, rotation:34*Math.PI/180,
      style:{ text:'Electron Recoils', font:'37px "DejaVu Sans"', fill:'#000', align:'center', verticalAlign:'middle' } },
    { type:'text', z:8, x:1034, y:543, rotation:15*Math.PI/180,
      style:{ text:'Nuclear Recoils', font:'37px "DejaVu Sans"', fill:'#ff0000', align:'center', verticalAlign:'middle' } },
    { type:'text', z:8, x:1073, y:735,
      style:{ text:'Heat-Only events', font:'37px "DejaVu Sans"', fill:'#000', align:'center', verticalAlign:'middle' } }
  ],
  series:[
    polySeries(nrCoreUpper.concat(nrCoreLower), '#ff0000'),
    { name:legendNames[0], type:'scatter', data:redPts, symbol:'circle', symbolSize:6,
      itemStyle:{ color:'#ff0000' }, silent:true, large:false, progressive:0 },
    polySeries(heatCoreUpper.concat(heatCoreLower), '#000000'),
    polySeries(lowCluster, '#000000'),
    polySeries(blobA, '#000000'),
    polySeries(blobB, '#000000'),
    { name:legendNames[1], type:'scatter', data:blackPts, symbol:'circle', symbolSize:6,
      itemStyle:{ color:'#000000' }, silent:true, large:false, progressive:0 },
    { type:'line', data:erLine, symbol:'none', silent:true, z:5,
      lineStyle:{ color:'#2ca02c', width:2.6, type:[2.6,5.6] } },
    { type:'line', data:zeroLine, symbol:'none', silent:true, z:5,
      lineStyle:{ color:'#2ca02c', width:2.6, type:[2.6,5.6] } }
  ]
});
</script>
</body></html>
